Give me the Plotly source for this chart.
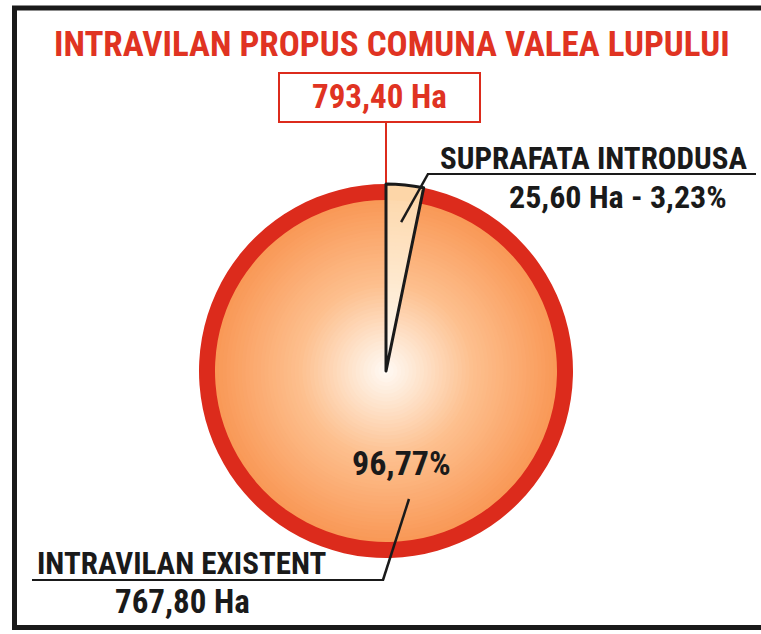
import math
import plotly.graph_objects as go

# ---------------- data ----------------
categories = ["SUPRAFATA INTRODUSA", "INTRAVILAN EXISTENT"]
areas_ha = [25.60, 767.80]
title_text = "INTRAVILAN PROPUS COMUNA VALEA LUPULUI"
unit = "Ha"

total_ha = sum(areas_ha)
shares = [v / total_ha * 100 for v in areas_ha]


def ro(v):
    return f"{v:.2f}".replace(".", ",")


# ---------------- geometry (pixels) ----------------
W, H = 761, 634
CX, CY = 386, 371
R_OUT = 187
R_IN = 171
FONT = "Roboto Condensed, Open Sans Condensed, DejaVu Sans Condensed, sans-serif"
RED = "#dc2b1c"
INK = "#1a1a1a"


def px(x):
    return x / W


def py(y):
    return 1 - y / H


def dom(r):
    return dict(x=[px(CX - r), px(CX + r)], y=[py(CY + r), py(CY - r)])


def lerp_stops(stops, t):
    for (t0, c0), (t1, c1) in zip(stops[:-1], stops[1:]):
        if t <= t1:
            f = (t - t0) / (t1 - t0) if t1 > t0 else 0
            c = [round(a + (b - a) * f) for a, b in zip(c0, c1)]
            return f"rgb({c[0]},{c[1]},{c[2]})"
    c = stops[-1][1]
    return f"rgb({c[0]},{c[1]},{c[2]})"


big_stops = [(0.0, (255, 250, 245)), (0.2, (254, 228, 205)), (0.5, (253, 192, 143)), (1.0, (249, 152, 86))]
small_stops = [(0.0, (255, 253, 250)), (0.5, (254, 232, 205)), (1.0, (253, 214, 168))]

fig = go.Figure()
common = dict(values=areas_ha, labels=categories, sort=False, direction="clockwise",
              rotation=0, textinfo="none", hoverinfo="skip", showlegend=False)

# red ring (outer pie)
fig.add_trace(go.Pie(domain=dom(R_OUT),
                     marker=dict(colors=[lerp_stops(small_stops, 1.0), RED], line=dict(width=0)),
                     **common))

# radial gradient built from stacked pies
N = 45
for k in range(N):
    r = R_IN * (1 - k / N)
    tc = 1 - (k + 0.5) / N
    small_c = lerp_stops(small_stops, tc * R_IN / R_OUT)
    fig.add_trace(go.Pie(domain=dom(r),
                         marker=dict(colors=[small_c, lerp_stops(big_stops, tc)], line=dict(width=0)),
                         **common))

# outline of the introduced slice
fig.add_trace(go.Pie(domain=dom(R_OUT),
                     marker=dict(colors=["rgba(0,0,0,0)", "rgba(0,0,0,0)"],
                                 line=dict(color=INK, width=[3, 0])),
                     **common))

# leader anchor inside the small slice (from data angle)
mid_small = shares[0] / 100 * 360 / 2
ax_s = CX + 0.8 * R_OUT * math.sin(math.radians(mid_small))
ay_s = CY - 0.8 * R_OUT * math.cos(math.radians(mid_small))

shapes = []
# frame
shapes.append(dict(type="line", xref="paper", yref="paper", x0=px(12), x1=px(770), y0=py(8), y1=py(8),
                   line=dict(color=INK, width=5)))
shapes.append(dict(type="line", xref="paper", yref="paper", x0=px(14.5), x1=px(14.5), y0=py(6), y1=py(630),
                   line=dict(color=INK, width=5)))
shapes.append(dict(type="line", xref="paper", yref="paper", x0=px(12), x1=px(770), y0=py(627.5), y1=py(627.5),
                   line=dict(color=INK, width=5)))
# total box + connector
shapes.append(dict(type="rect", xref="paper", yref="paper", x0=px(279), x1=px(480), y0=py(122), y1=py(73),
                   line=dict(color=RED, width=2), fillcolor="white"))
shapes.append(dict(type="line", xref="paper", yref="paper", x0=px(CX), x1=px(CX), y0=py(122), y1=py(CY - R_OUT + 2),
                   line=dict(color=RED, width=2), layer="below"))
# label for introduced slice
shapes.append(dict(type="line", xref="paper", yref="paper", x0=px(427), x1=px(756), y0=py(174), y1=py(174),
                   line=dict(color=INK, width=2)))
shapes.append(dict(type="line", xref="paper", yref="paper", x0=px(428), x1=px(ax_s), y0=py(174), y1=py(ay_s),
                   line=dict(color=INK, width=2.5)))
# label for existing
shapes.append(dict(type="line", xref="paper", yref="paper", x0=px(32), x1=px(384), y0=py(580), y1=py(580),
                   line=dict(color=INK, width=2)))
shapes.append(dict(type="line", xref="paper", yref="paper", x0=px(383), x1=px(409), y0=py(580), y1=py(499),
                   line=dict(color=INK, width=2.5)))

ann = []


def add_text(text, x, y, size, color, xanchor="center"):
    ann.append(dict(text=f"<b>{text}</b>", x=px(x), y=py(y), xref="paper", yref="paper",
                    xanchor=xanchor, yanchor="middle", showarrow=False,
                    font=dict(family=FONT, size=size, color=color)))


add_text(title_text, 392, 44, 35, "#e03322")
add_text(f"{ro(total_ha)} {unit}", 379, 97, 33, "#e03322")
add_text(categories[0], 749, 158, 31, INK, "right")
add_text(f"{ro(areas_ha[0])} {unit} - {ro(shares[0])}%", 729, 197, 32, INK, "right")
add_text(f"{ro(shares[1])}%", 401, 463, 34, INK)
add_text(categories[1], 35, 563, 31, INK, "left")
add_text(f"{ro(areas_ha[1])} {unit}", 182, 601, 33, INK)

fig.update_layout(width=W, height=H, margin=dict(l=0, r=0, t=0, b=0),
                  paper_bgcolor="white", plot_bgcolor="white",
                  shapes=shapes, annotations=ann)

fig.write_html("out.html", config={"displayModeBar": False},
               post_script="document.body.style.margin='0';")
